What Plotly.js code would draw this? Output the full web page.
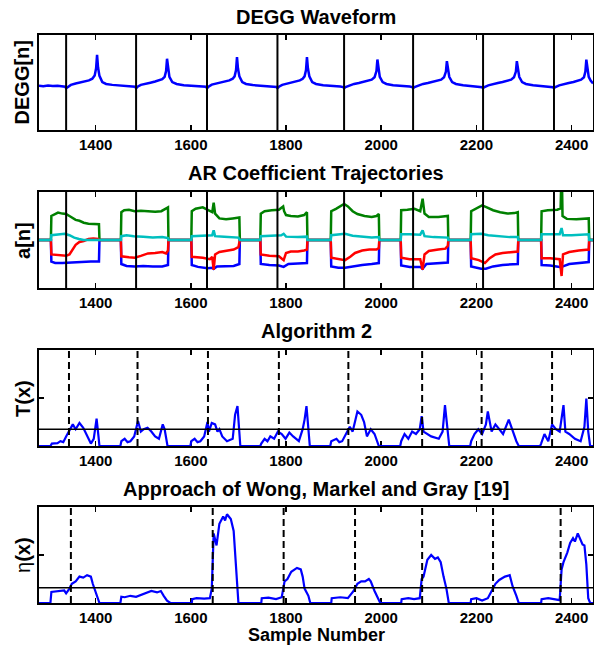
<!DOCTYPE html>
<html>
<head>
<meta charset="utf-8">
<script src="https://cdn.plot.ly/plotly-3.0.1.min.js"></script>
<style>html,body{margin:0;padding:0;background:#fff;}#chart{width:594px;height:646px;}</style>
</head>
<body>
<div id="chart"></div>
<script>
// ---------- data ----------
const xTicks = [1400, 1600, 1800, 2000, 2200, 2400];
const xTickLabels = ['1400', '1600', '1800', '2000', '2200', '2400'];

const panelTitles = ['DEGG Waveform', 'AR Coefficient Trajectories', 'Algorithm 2', 'Approach of Wong, Markel and Gray [19]'];
const yTitles = ['DEGG[n]', 'a[n]', 'T(x)', 'η<b>(x)</b>'];
const xTitle = 'Sample Number';

// solid markers (panels 1,2) and dashed markers (panels 3,4)
const solidLines = [1338, 1485, 1634, 1782, 1922, 2067, 2214, 2363];
const dashLines3 = [1344, 1488, 1636, 1785, 1931, 2086, 2211, 2359];
const dashLines4 = [1348, 1646, 1795, 1945, 2086, 2235, 2377];
const thresholdT = 0.35;
const thresholdEta = 0.32;

// DEGG waveform
const deggX = [1281,1290,1300,1310,1320,1330,1336,
 1338,1341,1348,1358,1368,1378,1386,1393,1398,1401,1403,1405,1408,1414,1422,1435,1450,1465,1478,1483,
 1485,1488,1495,1505,1515,1525,1533,1540,1545,1548,1550,1552,1555,1561,1570,1585,1600,1615,1627,1632,
 1634,1637,1644,1654,1664,1674,1681,1688,1692,1695,1697,1699,1702,1708,1716,1730,1745,1760,1774,1780,
 1782,1785,1792,1802,1812,1822,1829,1835,1839,1842,1844,1846,1849,1855,1863,1878,1893,1906,1914,1920,
 1922,1925,1933,1943,1953,1963,1972,1980,1986,1990,1992,1994,1997,2003,2011,2025,2040,2052,2060,2065,
 2067,2070,2078,2088,2098,2108,2118,2126,2132,2136,2138,2140,2143,2149,2157,2172,2187,2200,2208,2212,
 2214,2217,2225,2235,2245,2255,2265,2273,2279,2283,2285,2287,2290,2296,2304,2319,2334,2348,2356,2361,
 2363,2366,2374,2384,2394,2404,2413,2420,2426,2429,2431,2433,2436,2440,2445];
const deggY = [0.465,0.46,0.468,0.462,0.466,0.46,0.455,
 0.44,0.452,0.475,0.49,0.5,0.508,0.522,0.54,0.575,0.65,0.79,0.66,0.57,0.505,0.485,0.475,0.47,0.468,0.462,0.455,
 0.44,0.455,0.475,0.49,0.498,0.51,0.52,0.535,0.56,0.62,0.75,0.64,0.56,0.505,0.485,0.472,0.468,0.465,0.46,0.455,
 0.44,0.455,0.478,0.49,0.5,0.51,0.522,0.54,0.565,0.63,0.767,0.65,0.565,0.505,0.485,0.473,0.468,0.465,0.46,0.452,
 0.44,0.455,0.475,0.488,0.5,0.51,0.522,0.54,0.565,0.63,0.767,0.65,0.565,0.505,0.485,0.472,0.468,0.462,0.458,0.452,
 0.44,0.452,0.47,0.485,0.495,0.505,0.515,0.53,0.555,0.62,0.742,0.64,0.56,0.505,0.485,0.472,0.468,0.462,0.458,0.452,
 0.44,0.452,0.47,0.485,0.495,0.505,0.515,0.53,0.555,0.615,0.725,0.635,0.56,0.505,0.485,0.472,0.466,0.462,0.456,0.45,
 0.44,0.452,0.47,0.485,0.495,0.505,0.515,0.53,0.555,0.615,0.725,0.635,0.56,0.505,0.485,0.472,0.466,0.462,0.456,0.45,
 0.44,0.452,0.47,0.485,0.495,0.505,0.515,0.53,0.555,0.615,0.74,0.64,0.56,0.52,0.49];

// AR coefficient trajectories [sample, value]
const arBlue = [[1281,0],[1306,0],[1307,-0.45],[1315,-0.48],[1330,-0.48],[1345,-0.47],[1360,-0.46],[1375,-0.46],[1390,-0.45],[1405,-0.45],[1407,-0.45],[1408,0],
 [1453,0],[1454,-0.5],[1465,-0.54],[1482,-0.55],[1500,-0.54],[1520,-0.55],[1540,-0.55],[1552,-0.52],[1553,0],
 [1601,0],[1602,-0.52],[1615,-0.56],[1635,-0.59],[1646,-0.58],[1648,-0.6],[1655,-0.55],[1675,-0.54],[1690,-0.54],[1702,-0.5],[1703,0],
 [1746,0],[1747,-0.5],[1765,-0.52],[1785,-0.53],[1795,-0.56],[1805,-0.5],[1825,-0.49],[1844,-0.48],[1845,0],
 [1894,0],[1895,-0.55],[1910,-0.58],[1924,-0.58],[1940,-0.55],[1960,-0.52],[1980,-0.5],[1995,-0.48],[1996,0],
 [2041,0],[2042,-0.53],[2060,-0.56],[2082,-0.56],[2087,-0.6],[2095,-0.5],[2120,-0.48],[2140,-0.47],[2141,0],
 [2188,0],[2189,-0.55],[2210,-0.6],[2220,-0.6],[2235,-0.55],[2255,-0.52],[2275,-0.51],[2287,-0.5],[2288,0],
 [2336,0],[2337,-0.52],[2355,-0.53],[2375,-0.56],[2382,-0.55],[2395,-0.5],[2415,-0.48],[2436,-0.46],[2437,0],[2445,0]];
const arGreen = [[1281,0],[1306,0],[1307,0.5],[1315,0.55],[1321,0.57],[1330,0.55],[1338,0.54],[1345,0.5],[1352,0.46],[1358,0.42],[1366,0.4],[1375,0.36],[1385,0.34],[1395,0.34],[1405,0.33],[1407,0.33],[1408,0],
 [1453,0],[1454,0.58],[1460,0.62],[1470,0.63],[1482,0.6],[1495,0.61],[1510,0.6],[1525,0.59],[1538,0.6],[1548,0.66],[1552,0.68],[1553,0],
 [1601,0],[1602,0.6],[1610,0.65],[1625,0.68],[1638,0.62],[1645,0.58],[1648,0.78],[1651,0.55],[1660,0.45],[1674,0.43],[1688,0.45],[1698,0.46],[1702,0.47],[1703,0],
 [1746,0],[1747,0.55],[1755,0.6],[1770,0.62],[1785,0.63],[1794,0.7],[1796,0.6],[1800,0.52],[1810,0.5],[1825,0.49],[1838,0.52],[1844,0.58],[1845,0],
 [1894,0],[1895,0.6],[1905,0.65],[1922,0.75],[1930,0.7],[1940,0.6],[1950,0.54],[1965,0.5],[1980,0.48],[1990,0.5],[1995,0.54],[1996,0],
 [2041,0],[2042,0.62],[2055,0.63],[2070,0.65],[2082,0.6],[2087,0.86],[2091,0.55],[2100,0.48],[2120,0.48],[2135,0.5],[2140,0.5],[2141,0],
 [2188,0],[2189,0.6],[2200,0.66],[2212,0.72],[2222,0.68],[2235,0.62],[2250,0.58],[2265,0.55],[2280,0.56],[2287,0.58],[2288,0],
 [2336,0],[2337,0.6],[2350,0.62],[2370,0.63],[2377,0.66],[2378,1.1],[2380,1.1],[2381,0.5],[2390,0.44],[2410,0.43],[2430,0.44],[2436,0.45],[2437,0],[2445,0]];
const arRed = [[1281,0],[1306,0],[1307,-0.3],[1320,-0.31],[1338,-0.33],[1345,-0.3],[1352,-0.2],[1358,-0.1],[1366,-0.04],[1375,-0.02],[1385,0.02],[1395,0.03],[1405,0.02],[1407,0],
 [1453,0],[1454,-0.34],[1470,-0.36],[1482,-0.37],[1495,-0.33],[1510,-0.28],[1525,-0.27],[1540,-0.25],[1548,-0.28],[1552,-0.22],[1553,0],
 [1601,0],[1602,-0.35],[1625,-0.37],[1640,-0.4],[1645,-0.35],[1648,-0.62],[1651,-0.3],[1660,-0.25],[1675,-0.22],[1690,-0.2],[1700,-0.15],[1702,-0.05],[1703,0],
 [1746,0],[1747,-0.3],[1765,-0.33],[1785,-0.34],[1795,-0.42],[1800,-0.27],[1810,-0.24],[1825,-0.24],[1838,-0.22],[1844,-0.2],[1845,0],
 [1894,0],[1895,-0.37],[1910,-0.4],[1924,-0.42],[1935,-0.35],[1945,-0.27],[1960,-0.22],[1975,-0.2],[1990,-0.2],[1995,-0.17],[1996,0],
 [2041,0],[2042,-0.37],[2060,-0.4],[2082,-0.4],[2087,-0.62],[2091,-0.3],[2100,-0.23],[2120,-0.2],[2135,-0.18],[2140,-0.12],[2141,0],
 [2188,0],[2189,-0.38],[2205,-0.42],[2218,-0.48],[2228,-0.38],[2240,-0.3],[2255,-0.27],[2270,-0.25],[2287,-0.24],[2288,0],
 [2336,0],[2337,-0.38],[2355,-0.38],[2375,-0.4],[2379,-0.75],[2382,-0.3],[2395,-0.25],[2415,-0.22],[2436,-0.2],[2437,0],[2445,0]];
const arCyan = [[1281,0],[1306,0],[1307,0.1],[1320,0.12],[1335,0.13],[1345,0.1],[1355,0.05],[1365,0.02],[1375,0],[1453,0],
 [1454,0.08],[1465,0.1],[1480,0.08],[1500,0.07],[1520,0.05],[1540,0.06],[1552,0.04],[1553,0],[1601,0],
 [1602,0.08],[1630,0.09],[1645,0.1],[1648,0.2],[1651,0.08],[1670,0.07],[1700,0.05],[1703,0],[1746,0],
 [1747,0.08],[1770,0.09],[1790,0.1],[1795,0.13],[1800,0.07],[1825,0.06],[1844,0.07],[1845,0],[1894,0],
 [1895,0.1],[1915,0.12],[1924,0.13],[1940,0.09],[1960,0.07],[1980,0.05],[1995,0.06],[1996,0],[2041,0],
 [2042,0.12],[2060,0.12],[2082,0.11],[2087,0.2],[2091,0.08],[2110,0.06],[2140,0.05],[2141,0],[2188,0],
 [2189,0.12],[2210,0.13],[2225,0.1],[2245,0.08],[2270,0.06],[2287,0.06],[2288,0],[2336,0],
 [2337,0.12],[2360,0.12],[2375,0.12],[2379,0.25],[2382,0.1],[2400,0.1],[2436,0.12],[2437,0],[2445,0]];

// Algorithm 2 statistic T(x)
const tStat = [[1281,0],[1305,0],[1308,0.05],[1320,0.06],[1326,0.1],[1332,0.08],[1338,0.2],[1346,0.35],[1352,0.45],[1358,0.35],[1366,0.48],[1374,0.38],[1380,0.25],[1386,0.1],[1390,0.05],[1396,0.15],[1402,0.57],[1406,0.2],[1408,0],
 [1452,0],[1454,0.1],[1461,0.15],[1467,0.08],[1473,0.1],[1481,0.2],[1489,0.52],[1495,0.3],[1501,0.35],[1509,0.38],[1517,0.3],[1525,0.2],[1533,0.15],[1541,0.45],[1545,0.35],[1549,0.05],[1551,0],
 [1599,0],[1601,0.1],[1608,0.15],[1614,0.08],[1620,0.1],[1628,0.2],[1635,0.5],[1638,0.3],[1644,0.48],[1651,0.45],[1656,0.3],[1660,0.35],[1666,0.2],[1676,0.1],[1688,0.15],[1693,0.65],[1698,0.83],[1701,0.5],[1704,0],
 [1746,0],[1748,0.05],[1755,0.15],[1761,0.1],[1767,0.2],[1775,0.15],[1783,0.3],[1791,0.25],[1799,0.15],[1807,0.28],[1815,0.2],[1827,0.1],[1835,0.35],[1839,0.55],[1843,0.83],[1847,0.3],[1850,0],
 [1893,0],[1895,0.1],[1906,0.15],[1912,0.08],[1918,0.1],[1926,0.25],[1934,0.4],[1940,0.3],[1946,0.55],[1950,0.72],[1958,0.65],[1964,0.5],[1970,0.2],[1978,0.35],[1986,0.25],[1990,0.15],[1995,0],
 [2040,0],[2042,0.1],[2049,0.25],[2057,0.15],[2065,0.3],[2073,0.25],[2081,0.35],[2085,0.62],[2089,0.3],[2097,0.25],[2105,0.2],[2121,0.15],[2129,0.3],[2134,0.85],[2138,0.4],[2143,0],
 [2187,0],[2189,0.1],[2196,0.25],[2204,0.35],[2212,0.25],[2220,0.45],[2224,0.72],[2232,0.3],[2240,0.45],[2248,0.35],[2256,0.25],[2268,0.55],[2276,0.3],[2284,0.1],[2289,0],
 [2334,0],[2336,0.05],[2343,0.25],[2351,0.1],[2359,0.45],[2367,0.35],[2375,0.3],[2383,0.85],[2387,0.3],[2395,0.25],[2407,0.15],[2419,0.1],[2427,0.4],[2431,0.99],[2435,0.3],[2439,0],[2445,0]];

// Wong, Markel and Gray statistic eta(x)
const etaStat = [[1281,0],[1305,0],[1307,0.23],[1320,0.25],[1334,0.26],[1338,0.2],[1345,0.3],[1350,0.4],[1358,0.45],[1366,0.55],[1374,0.53],[1382,0.58],[1390,0.55],[1394,0.4],[1402,0.15],[1408,0],
 [1452,0],[1454,0.13],[1461,0.12],[1473,0.15],[1485,0.13],[1497,0.18],[1509,0.22],[1517,0.25],[1529,0.22],[1537,0.25],[1543,0.15],[1550,0.05],[1557,0],
 [1602,0],[1603,0.08],[1612,0.1],[1628,0.09],[1640,0.1],[1644,0.3],[1648,1.45],[1654,1.2],[1660,1.65],[1668,1.8],[1672,1.72],[1676,1.85],[1684,1.75],[1690,1.5],[1696,0.7],[1700,0],
 [1748,0],[1749,0.1],[1763,0.11],[1779,0.08],[1791,0.12],[1797,0.45],[1803,0.5],[1811,0.65],[1823,0.73],[1831,0.7],[1835,0.55],[1839,0.3],[1847,0.15],[1851,0],
 [1895,0],[1896,0.1],[1914,0.12],[1930,0.1],[1942,0.25],[1950,0.4],[1958,0.45],[1966,0.45],[1974,0.5],[1978,0.45],[1986,0.25],[1994,0.1],[1998,0],
 [2042,0],[2043,0.08],[2057,0.1],[2069,0.08],[2081,0.1],[2085,0.5],[2089,0.55],[2097,0.9],[2105,1.0],[2113,0.92],[2119,0.95],[2125,0.85],[2131,0.55],[2137,0.3],[2142,0],
 [2188,0],[2189,0.08],[2200,0.1],[2212,0.05],[2224,0.1],[2232,0.25],[2240,0.4],[2248,0.48],[2260,0.55],[2270,0.58],[2276,0.35],[2284,0.15],[2289,0],
 [2336,0],[2337,0.08],[2351,0.1],[2367,0.08],[2375,0.06],[2379,0.7],[2383,0.85],[2391,1.05],[2397,1.25],[2403,1.35],[2407,1.28],[2413,1.45],[2419,1.3],[2423,1.22],[2427,1.2],[2431,0.8],[2435,0.1],[2439,0],[2445,0]];

// ---------- build ----------
const FONT = 'Liberation Sans, Arial, sans-serif';
const xs = a => a.map(p => p[0]);
const ys = a => a.map(p => p[1]);
const line = (x, y, color, xa, ya, w, extra) => Object.assign({type:'scatter', mode:'lines', x:x, y:y, xaxis:xa, yaxis:ya, line:{color:color, width:w}, hoverinfo:'skip'}, extra || {});

const traces = [
  line(deggX, deggY, '#0000FF', 'x', 'y', 2.5),
  line(xs(arBlue), ys(arBlue), '#0000FF', 'x2', 'y2', 2.5),
  line(xs(arGreen), ys(arGreen), '#008000', 'x2', 'y2', 2.5),
  line(xs(arRed), ys(arRed), '#FF0000', 'x2', 'y2', 2.5),
  line(xs(arCyan), ys(arCyan), '#00BFBF', 'x2', 'y2', 2.5),
  line(xs(tStat), ys(tStat), '#0000FF', 'x3', 'y3', 2.2, {cliponaxis:false}),
  line(xs(etaStat), ys(etaStat), '#0000FF', 'x4', 'y4', 2.2, {cliponaxis:false})
];

const H = 646;
const dom = (top, bot) => [1 - bot / H, 1 - top / H];
const xRange = [1281, 2445];
function xAxis(anchor, layer) {
  return {anchor:anchor, domain:[0,1], range:xRange, tickmode:'array', tickvals:xTicks, ticktext:xTickLabels,
    ticks:'inside', ticklen:5, tickwidth:1.5, tickcolor:'black', showline:true, linewidth:2, linecolor:'black', mirror:'ticks',
    showgrid:false, zeroline:false, layer:layer || 'above traces', ticklabelstandoff:0,
    tickfont:{family:FONT, size:15, color:'black', weight:'bold'}};
}
function yAxis(anchor, domain, range, tickvals) {
  return {anchor:anchor, domain:domain, range:range, showline:true, linewidth:2, linecolor:'black',
    mirror: tickvals ? 'ticks' : true, ticks: tickvals ? 'inside' : '', tickmode:'array', tickvals: tickvals || [],
    ticklen:5, tickwidth:1.5, tickcolor:'black', showticklabels:false, showgrid:false, zeroline:false};
}

const shapes = [];
solidLines.forEach(v => {
  ['y', 'y2'].forEach((ya, i) => shapes.push({type:'line', xref: i ? 'x2' : 'x', yref: ya + ' domain', x0:v, x1:v, y0:0, y1:1, line:{color:'black', width:2}}));
});
dashLines3.forEach(v => shapes.push({type:'line', xref:'x3', yref:'y3 domain', x0:v, x1:v, y0:0, y1:1, line:{color:'black', width:2, dash:'7px,4px'}}));
dashLines4.forEach(v => shapes.push({type:'line', xref:'x4', yref:'y4 domain', x0:v, x1:v, y0:0, y1:1, line:{color:'black', width:2, dash:'7px,4px'}}));
shapes.push({type:'line', xref:'x3 domain', yref:'y3', x0:0, x1:1, y0:thresholdT, y1:thresholdT, line:{color:'black', width:1.5}});
shapes.push({type:'line', xref:'x4 domain', yref:'y4', x0:0, x1:1, y0:thresholdEta, y1:thresholdEta, line:{color:'black', width:1.5}});

const doms = [dom(35,130), dom(192,288), dom(350,446), dom(507,603)];
const titleY = [17, 173, 331, 489];
const annotations = [];
panelTitles.forEach((t, i) => annotations.push({text:t, xref:'paper', yref:'paper', x:0.5, y:1 - titleY[i]/H, xanchor:'center', yanchor:'middle', showarrow:false,
  font:{family:FONT, size:20, color:'black', weight:'bold'}}));
yTitles.forEach((t, i) => annotations.push({text:t, xref:'paper', yref:'paper', x:-0.029, y:(doms[i][0]+doms[i][1])/2, xanchor:'center', yanchor:'middle', textangle:-90, showarrow:false,
  font:{family:FONT, size:20, color:'black', weight: i === 3 ? 'normal' : 'bold'}}));
annotations.push({text:xTitle, xref:'paper', yref:'paper', x:0.5, y:1 - 635/H, xanchor:'center', yanchor:'middle', showarrow:false,
  font:{family:FONT, size:18, color:'black', weight:'bold'}});

const layout = {
  width:594, height:646, margin:{l:39, r:1, t:0, b:0}, showlegend:false,
  paper_bgcolor:'#fff', plot_bgcolor:'#fff',
  xaxis: xAxis('y'), yaxis: yAxis('x', doms[0], [0, 1]),
  xaxis2: xAxis('y2'), yaxis2: yAxis('x2', doms[1], [-1, 1]),
  xaxis3: xAxis('y3', 'below traces'), yaxis3: yAxis('x3', doms[2], [0, 2], [1]),
  xaxis4: xAxis('y4', 'below traces'), yaxis4: yAxis('x4', doms[3], [0, 2], [1]),
  shapes: shapes, annotations: annotations
};
Plotly.newPlot('chart', traces, layout, {staticPlot:true, displayModeBar:false});
</script>
</body>
</html>
